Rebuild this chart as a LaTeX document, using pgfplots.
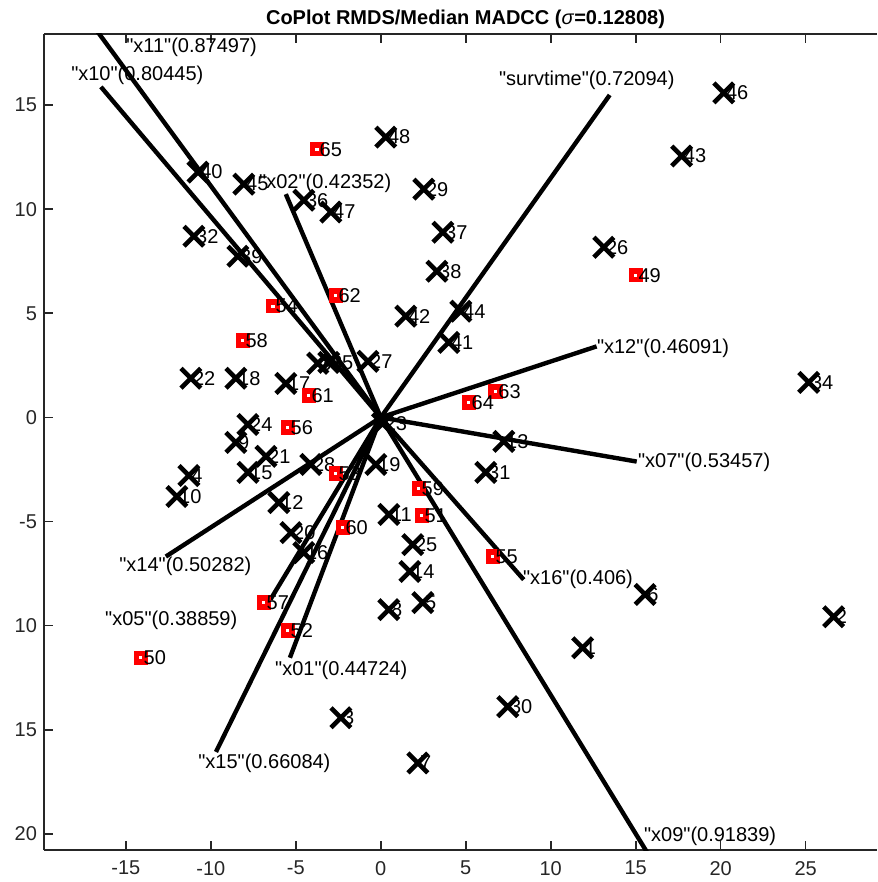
\documentclass[border=0pt]{standalone}
\usepackage{fontspec}
\setmainfont{Liberation Sans}
\newfontfamily\qfont{Liberation Sans}[Ligatures=NoCommon]
\usepackage{pgfplots}
\pgfplotsset{compat=1.18}
\usepackage{pgfplotstable}
\newcommand{\q}{{\qfont"}}

\pgfplotstableread{
x y lab
20.18 15.58 46
17.70 12.55 43
13.12 8.17 26
25.18 1.68 34
26.65 -9.57 2
15.55 -8.50 6
11.88 -11.06 1
7.47 -13.89 30
-2.35 -14.42 3
2.18 -16.59 7
0.29 13.46 48
2.53 10.96 29
3.65 8.89 37
3.30 7.02 38
4.71 5.10 44
1.47 4.86 42
4.00 3.60 41
-10.76 11.78 40
-8.06 11.20 45
-4.53 10.43 36
-2.94 9.86 47
-11.00 8.70 32
-8.41 7.74 39
-11.18 1.88 22
-8.53 1.88 18
-5.59 1.63 17
-3.71 2.60 33
-3.06 2.64 35
-0.76 2.69 27
-7.82 -0.34 24
-8.53 -1.20 9
-6.76 -1.87 21
-7.82 -2.64 15
-11.29 -2.79 4
-12.00 -3.80 10
-4.12 -2.26 28
-0.29 -2.26 19
-6.00 -4.09 12
-5.29 -5.53 20
-4.53 -6.49 16
0.47 -4.66 11
1.88 -6.11 25
1.71 -7.40 14
0.47 -9.23 8
2.47 -8.89 5
0.10 -0.30 23
7.24 -1.15 13
6.18 -2.64 31
}\crosses

\pgfplotstableread{
x y lab
-3.76 12.88 65
15.00 6.83 49
-2.65 5.86 62
-6.35 5.34 54
-8.12 3.70 58
-4.24 1.06 61
-5.47 -0.48 56
6.76 1.25 63
5.18 0.72 64
-2.65 -2.69 53
-2.24 -5.29 60
2.24 -3.41 59
2.41 -4.71 51
6.59 -6.68 55
-6.88 -8.89 57
-5.47 -10.24 52
-14.12 -11.54 50
}\squares

\begin{document}
\begin{tikzpicture}
\begin{axis}[
  scale only axis, width=416.5pt, height=408pt,
  xmin=-19.82, xmax=29.2, ymin=-20.77, ymax=18.41,
  axis x line=box, axis y line=left,
  axis line style={-, draw=black!85, line width=0.8pt},
  tick align=inside, major tick length=4.5pt,
  tick style={draw=black!85, line width=0.8pt},
  xtick={-15,-10,...,25}, xticklabels={-15,-10,-5,0,5,10,15,20,25},
  ytick={-20,-15,...,15}, yticklabels={20,15,10,-5,0,5,10,15},
  ticklabel style={font=\fontsize{10}{12}\selectfont, text=black!85},
  xticklabel style={yshift=-2pt},
  title={\bfseries CoPlot RMDS/Median MADCC (\textmd{\textit{σ}}=0.12808)},
  every axis title/.style={at={(0.5,1)}, anchor=base, yshift=4.5pt, xshift=2.5pt, inner sep=0pt, font=\fontsize{10}{12}\selectfont},
  nodes near coords style={anchor=west, inner sep=0pt, text=black, font=\fontsize{10}{12}\selectfont},
]
% vectors
\addplot[black, line width=2.2pt] coordinates {(0,0) (-16.9,18.78)};
\addplot[black, line width=2.2pt] coordinates {(0,0) (-16.47,15.87)};
\addplot[black, line width=2.2pt] coordinates {(0,0) (-5.59,10.72)};
\addplot[black, line width=2.2pt] coordinates {(0,0) (13.47,15.48)};
\addplot[black, line width=2.2pt] coordinates {(0,0) (12.7,3.41)};
\addplot[black, line width=2.2pt] coordinates {(0,0) (15.06,-2.12)};
\addplot[black, line width=2.2pt] coordinates {(0,0) (8.41,-7.79)};
\addplot[black, line width=2.2pt] coordinates {(0,0) (15.72,-20.95)};
\addplot[black, line width=2.2pt] coordinates {(0,0) (-9.7,-16.06)};
\addplot[black, line width=2.2pt] coordinates {(0,0) (-5.35,-11.54)};
\addplot[black, line width=2.2pt] coordinates {(0,0) (-6.5,-8.75)};
\addplot[black, line width=2.2pt] coordinates {(0,0) (-12.65,-6.68)};
% points
\addplot[only marks, mark=x, mark size=7pt, line width=2.3pt, black,
  nodes near coords, point meta=explicit symbolic]
  table[x=x, y=y, meta=lab] {\crosses};
\addplot[only marks, mark=square*, mark size=2.2pt, line width=2.8pt, draw=red, fill=white,
  nodes near coords, point meta=explicit symbolic]
  table[x=x, y=y, meta=lab] {\squares};
% vector labels
\begin{scope}[every node/.style={anchor=west, inner sep=0pt, font=\fontsize{10}{12}\selectfont}]
\node at (axis cs:-15.0,17.79) {\q x11\q(0.87497)};
\node at (axis cs:-18.24,16.44) {\q x10\q(0.80445)};
\node at (axis cs:-7.18,11.25) {\q x02\q(0.42352)};
\node at (axis cs:6.94,16.2) {\q survtime\q(0.72094)};
\node at (axis cs:12.7,3.32) {\q x12\q(0.46091)};
\node at (axis cs:15.12,-2.16) {\q x07\q(0.53457)};
\node at (axis cs:8.35,-7.79) {\q x16\q(0.406)};
\node at (axis cs:-15.41,-7.16) {\q x14\q(0.50282)};
\node at (axis cs:-16.24,-9.76) {\q x05\q(0.38859)};
\node at (axis cs:-6.24,-12.16) {\q x01\q(0.44724)};
\node at (axis cs:-10.76,-16.59) {\q x15\q(0.66084)};
\node at (axis cs:15.47,-20.1) {\q x09\q(0.91839)};
\end{scope}
\end{axis}
\pgfresetboundingbox
\path[use as bounding box] ([xshift=-22pt,yshift=-16pt]current axis.south west) rectangle ([yshift=17pt]current axis.north east);
\end{tikzpicture}
\end{document}
